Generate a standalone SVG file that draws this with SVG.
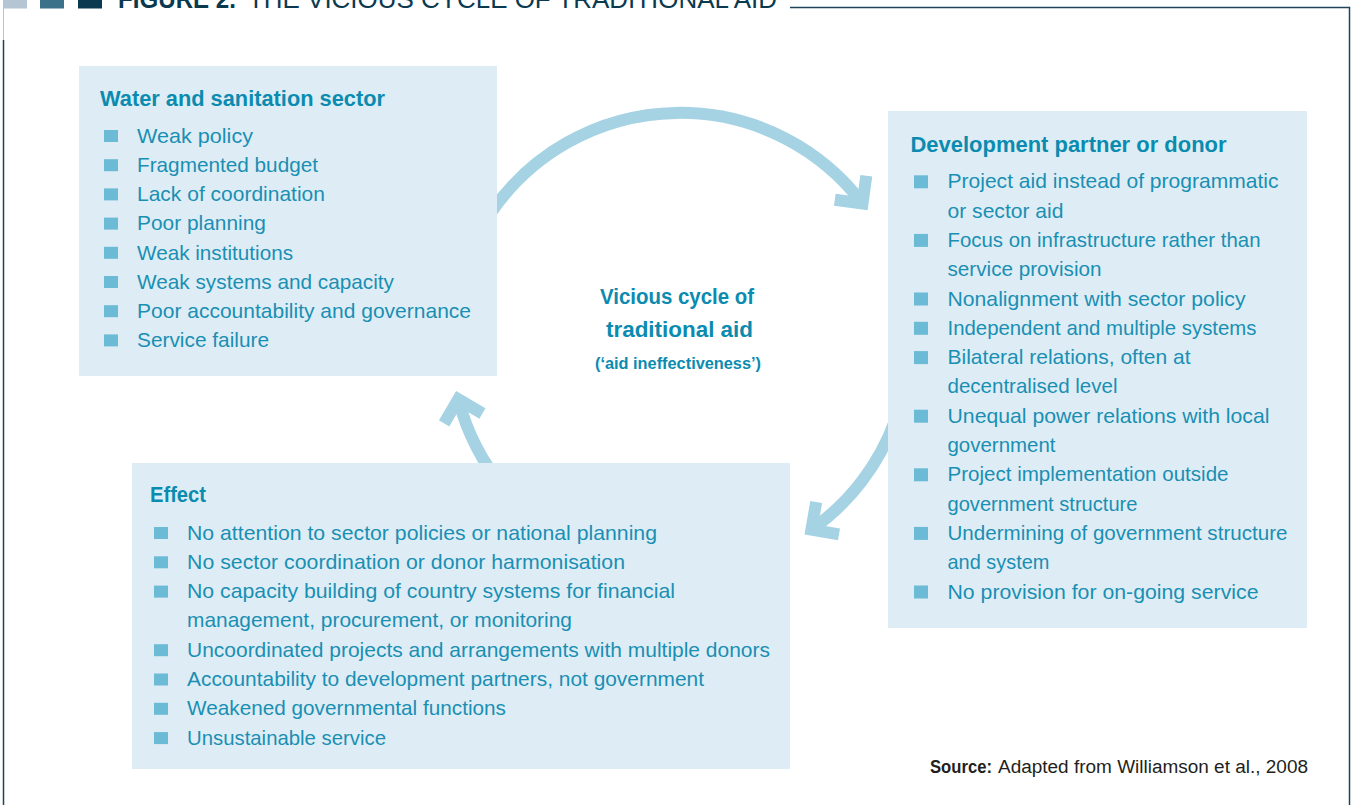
<svg xmlns="http://www.w3.org/2000/svg" width="1355" height="805" viewBox="0 0 1355 805">
<style>
.box{fill:#deedf5}
.bul{fill:#6bbad6}
.t{font-family:"Liberation Sans",Arial,sans-serif;font-size:21px;fill:#1a8fb4}
.h{font-family:"Liberation Sans",Arial,sans-serif;font-size:22px;font-weight:bold;fill:#0b8bb0}
.arc{fill:none;stroke:#a5d3e4;stroke-width:12}
.head{fill:none;stroke:#a5d3e4;stroke-width:12;stroke-linejoin:miter;stroke-miterlimit:10}
.frame{stroke:#1d4459;stroke-width:1.5;fill:none}
</style>
<rect width="1355" height="805" fill="#ffffff"/>
<g id="frame">
<rect x="3" y="0" width="24" height="8.5" fill="#b4c6d3"/>
<rect x="40" y="0" width="24" height="8.5" fill="#3b7189"/>
<rect x="78" y="0" width="24" height="8.5" fill="#0b3a50"/>
<line x1="3.5" y1="8" x2="3.5" y2="40" stroke="#b4c6d3" stroke-width="1"/>
<line x1="3.5" y1="40" x2="3.5" y2="805" class="frame"/>
<polyline points="790,7.5 1349.5,7.5 1349.5,805" class="frame"/>
<text x="118" y="8" font-family="'Liberation Sans',Arial,sans-serif" font-size="26" font-weight="bold" fill="#0b3a50" textLength="118" lengthAdjust="spacingAndGlyphs">FIGURE 2.</text>
<text x="248" y="8" font-family="'Liberation Sans',Arial,sans-serif" font-size="26" fill="#0b3a50" textLength="529" lengthAdjust="spacingAndGlyphs">THE VICIOUS CYCLE OF TRADITIONAL AID</text>
</g>
<g id="connectors">
<path class="arc" d="M 492.4 210.6 A 229 229 0 0 1 862.5 203.5"/>
<polyline class="head" points="834.8,199.7 862.5,203.5 866.3,175.8"/>
<path class="arc" d="M 895.2 420.3 A 229 229 0 0 1 811.4 529.6"/>
<polyline class="head" points="839,534.4 811.4,529.6 816.2,502"/>
<path class="arc" d="M 504.6 489.2 A 229 229 0 0 1 458.3 399.3"/>
<polyline class="head" points="444.1,423.4 458.3,399.3 482.4,413.5"/>
</g>
<g id="water-sanitation">
<rect class="box" x="79" y="66" width="418" height="310"/>
<text class="h" x="100" y="105.7" textLength="285" lengthAdjust="spacingAndGlyphs">Water and sanitation sector</text>
<rect class="bul" x="104" y="130" width="14" height="12"/>
<rect class="bul" x="104" y="159.2" width="14" height="12"/>
<rect class="bul" x="104" y="188.4" width="14" height="12"/>
<rect class="bul" x="104" y="217.6" width="14" height="12"/>
<rect class="bul" x="104" y="246.8" width="14" height="12"/>
<rect class="bul" x="104" y="276" width="14" height="12"/>
<rect class="bul" x="104" y="305.2" width="14" height="12"/>
<rect class="bul" x="104" y="334.4" width="14" height="12"/>
<text class="t" x="137" y="142.7" textLength="116" lengthAdjust="spacingAndGlyphs">Weak policy</text>
<text class="t" x="137" y="171.9" textLength="181" lengthAdjust="spacingAndGlyphs">Fragmented budget</text>
<text class="t" x="137" y="201.1" textLength="188" lengthAdjust="spacingAndGlyphs">Lack of coordination</text>
<text class="t" x="137" y="230.3" textLength="129" lengthAdjust="spacingAndGlyphs">Poor planning</text>
<text class="t" x="137" y="259.5" textLength="156" lengthAdjust="spacingAndGlyphs">Weak institutions</text>
<text class="t" x="137" y="288.7" textLength="257" lengthAdjust="spacingAndGlyphs">Weak systems and capacity</text>
<text class="t" x="137" y="317.9" textLength="334" lengthAdjust="spacingAndGlyphs">Poor accountability and governance</text>
<text class="t" x="137" y="347.1" textLength="132" lengthAdjust="spacingAndGlyphs">Service failure</text>
</g>
<g id="donor">
<rect class="box" x="888" y="111" width="419" height="517"/>
<text class="h" x="910.5" y="151.7" textLength="316" lengthAdjust="spacingAndGlyphs">Development partner or donor</text>
<rect class="bul" x="914" y="175.3" width="14" height="13"/>
<rect class="bul" x="914" y="233.9" width="14" height="13"/>
<rect class="bul" x="914" y="292.5" width="14" height="13"/>
<rect class="bul" x="914" y="321.8" width="14" height="13"/>
<rect class="bul" x="914" y="351.1" width="14" height="13"/>
<rect class="bul" x="914" y="409.7" width="14" height="13"/>
<rect class="bul" x="914" y="468.3" width="14" height="13"/>
<rect class="bul" x="914" y="526.9" width="14" height="13"/>
<rect class="bul" x="914" y="585.5" width="14" height="13"/>
<text class="t" x="947.5" y="188.3" textLength="331" lengthAdjust="spacingAndGlyphs">Project aid instead of programmatic</text>
<text class="t" x="947.5" y="217.6" textLength="116" lengthAdjust="spacingAndGlyphs">or sector aid</text>
<text class="t" x="947.5" y="246.9" textLength="313" lengthAdjust="spacingAndGlyphs">Focus on infrastructure rather than</text>
<text class="t" x="947.5" y="276.2" textLength="154" lengthAdjust="spacingAndGlyphs">service provision</text>
<text class="t" x="947.5" y="305.5" textLength="298" lengthAdjust="spacingAndGlyphs">Nonalignment with sector policy</text>
<text class="t" x="947.5" y="334.8" textLength="309" lengthAdjust="spacingAndGlyphs">Independent and multiple systems</text>
<text class="t" x="947.5" y="364.1" textLength="243" lengthAdjust="spacingAndGlyphs">Bilateral relations, often at</text>
<text class="t" x="947.5" y="393.4" textLength="170" lengthAdjust="spacingAndGlyphs">decentralised level</text>
<text class="t" x="947.5" y="422.7" textLength="322" lengthAdjust="spacingAndGlyphs">Unequal power relations with local</text>
<text class="t" x="947.5" y="452" textLength="108" lengthAdjust="spacingAndGlyphs">government</text>
<text class="t" x="947.5" y="481.3" textLength="281" lengthAdjust="spacingAndGlyphs">Project implementation outside</text>
<text class="t" x="947.5" y="510.6" textLength="190" lengthAdjust="spacingAndGlyphs">government structure</text>
<text class="t" x="947.5" y="539.9" textLength="340" lengthAdjust="spacingAndGlyphs">Undermining of government structure</text>
<text class="t" x="947.5" y="569.2" textLength="102" lengthAdjust="spacingAndGlyphs">and system</text>
<text class="t" x="947.5" y="598.5" textLength="311" lengthAdjust="spacingAndGlyphs">No provision for on-going service</text>
</g>
<g id="effect">
<rect class="box" x="132" y="463" width="658" height="306"/>
<text class="h" x="150" y="502" textLength="56" lengthAdjust="spacingAndGlyphs">Effect</text>
<rect class="bul" x="154" y="527" width="14" height="12"/>
<rect class="bul" x="154" y="556.3" width="14" height="12"/>
<rect class="bul" x="154" y="585.6" width="14" height="12"/>
<rect class="bul" x="154" y="644.2" width="14" height="12"/>
<rect class="bul" x="154" y="673.5" width="14" height="12"/>
<rect class="bul" x="154" y="702.8" width="14" height="12"/>
<rect class="bul" x="154" y="732.1" width="14" height="12"/>
<text class="t" x="187" y="539.5" textLength="470" lengthAdjust="spacingAndGlyphs">No attention to sector policies or national planning</text>
<text class="t" x="187" y="568.8" textLength="438" lengthAdjust="spacingAndGlyphs">No sector coordination or donor harmonisation</text>
<text class="t" x="187" y="598.1" textLength="488" lengthAdjust="spacingAndGlyphs">No capacity building of country systems for financial</text>
<text class="t" x="187" y="627.4" textLength="385" lengthAdjust="spacingAndGlyphs">management, procurement, or monitoring</text>
<text class="t" x="187" y="656.7" textLength="583" lengthAdjust="spacingAndGlyphs">Uncoordinated projects and arrangements with multiple donors</text>
<text class="t" x="187" y="686" textLength="517" lengthAdjust="spacingAndGlyphs">Accountability to development partners, not government</text>
<text class="t" x="187" y="715.3" textLength="319" lengthAdjust="spacingAndGlyphs">Weakened governmental functions</text>
<text class="t" x="187" y="744.6" textLength="199" lengthAdjust="spacingAndGlyphs">Unsustainable service</text>
</g>
<g id="center-label">
<text class="h" x="600" y="304" textLength="154" lengthAdjust="spacingAndGlyphs">Vicious cycle of</text>
<text class="h" x="606" y="337" textLength="147" lengthAdjust="spacingAndGlyphs">traditional aid</text>
<text x="595" y="369" font-family="'Liberation Sans',Arial,sans-serif" font-size="16" font-weight="bold" fill="#0b8bb0" textLength="166" lengthAdjust="spacingAndGlyphs">(‘aid ineffectiveness’)</text>
</g>
<g id="source">
<text x="930" y="773" font-family="'Liberation Sans',Arial,sans-serif" font-size="18" font-weight="bold" fill="#231f20" textLength="62" lengthAdjust="spacingAndGlyphs">Source:</text>
<text x="998" y="773" font-family="'Liberation Sans',Arial,sans-serif" font-size="18" fill="#231f20" textLength="310" lengthAdjust="spacingAndGlyphs">Adapted from Williamson et al., 2008</text>
</g>
</svg>
